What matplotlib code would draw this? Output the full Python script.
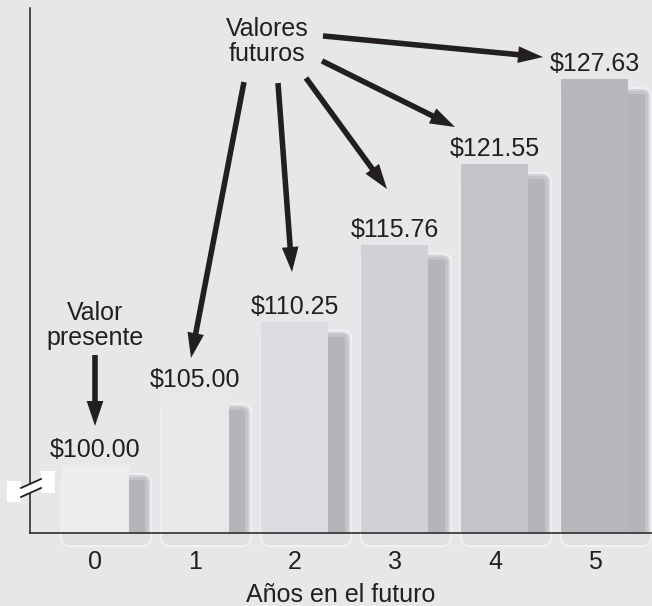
import matplotlib
matplotlib.use("Agg")
import matplotlib.pyplot as plt
from matplotlib.patches import FancyBboxPatch, FancyArrowPatch, Polygon
from matplotlib.transforms import Affine2D

plt.rcParams['font.family'] = ['Liberation Sans', 'DejaVu Sans']

years = [0, 1, 2, 3, 4, 5]
values = [100.00, 105.00, 110.25, 115.76, 121.55, 127.63]
face_colors = ['#ededee', '#e7e8ea', '#dcdde0', '#d0d1d4', '#c4c5c8', '#b6b7ba']

# arrow tips from "Valores futuros" to each future-value label (bar index, value offset)
tip_dx = [-0.04, -0.03, -0.08, -0.40, -0.52]
tip_dy = [2.66, 3.56, 3.99, 2.64, 1.57]
start_x = [1.49, 1.83, 2.11, 2.27, 2.28]
start_y = [127.41, 127.34, 127.70, 128.92, 130.71]

bg = '#e6e7e9'
ink = '#231f20'
W, H = 652, 606

fig = plt.figure(figsize=(W / 100, H / 100), dpi=100, facecolor=bg)
ax = fig.add_axes([30 / W, (H - 533) / H, 622 / W, 525 / H])
ax.set_facecolor(bg)

ymin, ymax = 95.13, 132.71
xmin, xmax = -0.65, 5.57
ax.set_xlim(xmin, xmax)
ax.set_ylim(ymin, ymax)

px_x = 622 / (xmax - xmin)   # pixels per x unit
px_y = 525 / (ymax - ymin)   # pixels per y unit
aspect = px_x / px_y


def rbox(x0, y0, x1, y1, inset, color, radius=10, clip=True, z=1):
    dx = inset / px_x
    dy = inset / px_y
    r = max(radius - inset, 1) / px_x
    p = FancyBboxPatch((x0 + dx, y0 + dy), (x1 - x0) - 2 * dx, (y1 - y0) - 2 * dy,
                       boxstyle=f"round,pad=0,rounding_size={r}",
                       mutation_aspect=aspect, fc=color, ec='none',
                       clip_on=clip, zorder=z)
    ax.add_patch(p)


for i, v in zip(years, values):
    sx0, sx1 = i - 0.35, i + 0.57
    sy0 = ymin - 14 / px_y
    sy1 = v - 8 / px_y
    # light footprint under the axis line
    rbox(sx0, sy0, sx1, sy1, 0, '#f1f2f3', clip=False, z=0.5)
    rbox(sx0, sy0, sx1, sy1, 2, '#dfe0e2', clip=False, z=0.6)
    # soft dark shadow beside the bar
    rbox(sx0, sy0, sx1, sy1, 0, '#eeeff1', z=1)
    rbox(sx0, sy0, sx1, sy1, 2, '#d3d4d7', z=1.1)
    rbox(sx0, sy0, sx1, sy1, 4, '#c3c4c7', z=1.2)
    rbox(sx0, sy0, sx1, sy1, 7, '#b4b5b8', z=1.3)

ax.bar(years, [v - ymin for v in values], bottom=ymin, width=0.67, align='center',
       color=face_colors, zorder=2)

for i, v in zip(years, values):
    ax.annotate(f'${v:.2f}', xy=(i, v), xytext=(0, 5.5), textcoords='offset points',
                ha='center', va='baseline', fontsize=18, color=ink, zorder=5)

# present value callout
ax.text(0, 110.0, 'Valor\npresente', ha='center', va='center', fontsize=18,
        color=ink, linespacing=1.05, zorder=5)
arrow_kw = dict(arrowstyle='simple,head_length=18,head_width=12,tail_width=4',
                mutation_scale=1, color=ink, lw=0, shrinkA=0, shrinkB=0,
                clip_on=False, zorder=6)
ax.add_patch(FancyArrowPatch((0, 107.87), (0, 102.79), **arrow_kw))

# future values callout
ax.text(1.72, 130.3, 'Valores\nfuturos', ha='center', va='center', fontsize=18,
        color=ink, linespacing=1.05, zorder=5)
for k, i in enumerate(years[1:]):
    tip = (i + tip_dx[k], values[i] + tip_dy[k])
    ax.add_patch(FancyArrowPatch((start_x[k], start_y[k]), tip, **arrow_kw))

for side in ['top', 'right']:
    ax.spines[side].set_visible(False)
for side in ['left', 'bottom']:
    ax.spines[side].set_linewidth(1.1)
    ax.spines[side].set_color(ink)
    ax.spines[side].set_zorder(4)

ax.set_yticks([])
ax.set_xticks(years)
ax.set_xticklabels([str(y) for y in years])
ax.tick_params(axis='x', length=0, pad=12, labelsize=18, labelcolor=ink)
ax.set_xlabel('Años en el futuro', fontsize=18, color=ink, labelpad=7)

# axis break mark on the value axis
to_disp = Affine2D().scale(1, -1).translate(0, H)
brk = [(7, 481), (21, 481), (21, 488), (41, 479), (41, 471), (55, 471), (55, 493),
       (41, 493), (41, 488), (21, 497), (21, 502), (7, 502)]
fig.patches.append(Polygon(brk, closed=True, fc='white', ec='none', transform=to_disp,
                           figure=fig, zorder=10))
for (a, b) in [((21, 488), (41, 479)), ((21, 497), (41, 488))]:
    fig.lines.append(plt.Line2D([a[0], b[0]], [a[1], b[1]], color=ink, lw=1.3,
                                transform=to_disp, figure=fig, zorder=11))

fig.savefig('out.png', dpi=100, facecolor=bg)
